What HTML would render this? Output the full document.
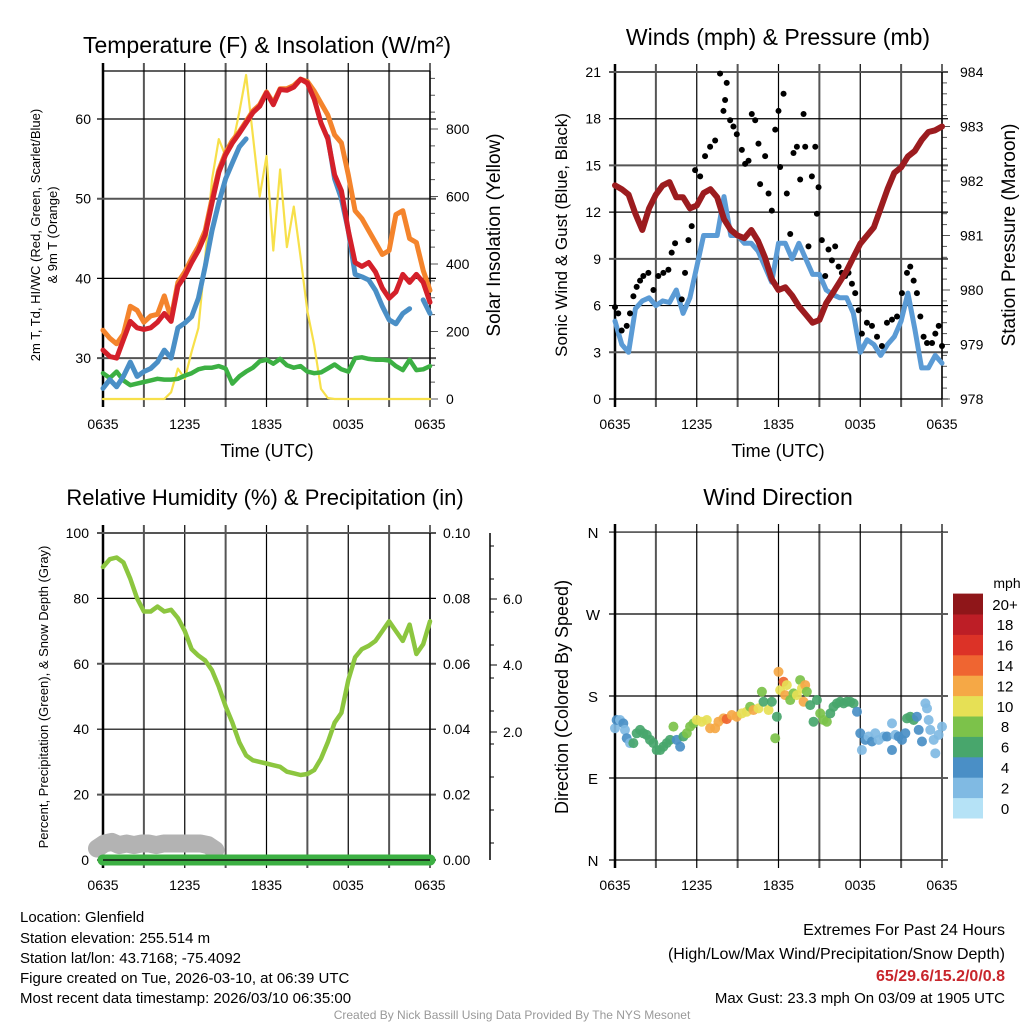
<!DOCTYPE html>
<html><head><meta charset="utf-8"><style>
body{margin:0;background:#fff;}
svg{display:block;font-family:"Liberation Sans",sans-serif;}
</style></head><body>
<svg id="c" width="1024" height="1024" viewBox="0 0 1024 1024">
<rect width="1024" height="1024" fill="#fff"/>
<g id="layer"></g>
<text x="20" y="922" font-size="15">Location: Glenfield</text>
<text x="20" y="943" font-size="15">Station elevation: 255.514 m</text>
<text x="20" y="963" font-size="15">Station lat/lon: 43.7168; -75.4092</text>
<text x="20" y="983" font-size="15">Figure created on Tue, 2026-03-10, at 06:39 UTC</text>
<text x="20" y="1003" font-size="15">Most recent data timestamp: 2026/03/10 06:35:00</text>
<text x="1005" y="935" font-size="16" text-anchor="end">Extremes For Past 24 Hours</text>
<text x="1005" y="959" font-size="16" text-anchor="end">(High/Low/Max Wind/Precipitation/Snow Depth)</text>
<text x="1005" y="981" font-size="16" font-weight="bold" fill="#c8262c" text-anchor="end">65/29.6/15.2/0/0.8</text>
<text x="1005" y="1003" font-size="15" text-anchor="end">Max Gust: 23.3 mph On 03/09 at 1905 UTC</text>
<text x="512" y="1019" font-size="12" fill="#999" text-anchor="middle">Created By Nick Bassill Using Data Provided By The NYS Mesonet</text>
</svg>
<script>
// ---- data (half-hourly from 0635 UTC, 49 points) ----
const xTickLabels = ["0635","1235","1835","0035","0635"];
const tempRed = [31.0,30.2,30.0,32.3,34.6,33.8,33.6,33.8,34.5,35.6,34.6,39.0,40.3,42.0,43.5,45.5,49.5,53.3,55.5,57.0,58.2,59.5,60.8,61.6,63.3,61.8,63.7,63.6,64.0,65.0,64.5,62.5,59.5,57.5,53.0,51.0,46.0,42.0,41.5,42.0,40.8,38.8,37.5,38.3,40.5,39.5,40.5,39.5,37.0];
const temp9mOrange = [33.5,32.5,31.8,33.0,36.5,36.0,34.5,35.3,35.5,37.8,35.0,39.5,40.8,42.5,44.0,46.0,50.0,53.6,55.8,57.3,58.4,59.7,61.0,61.8,63.4,62.0,63.8,63.8,64.2,65.0,64.7,63.5,62.0,60.5,58.0,57.0,53.0,48.5,47.5,46.0,44.5,43.0,43.5,48.0,48.5,45.0,44.5,41.0,38.5];
const windChillBlue = [26.2,27.3,26.4,27.7,29.5,27.7,28.3,28.7,29.5,31.0,30.0,33.8,34.4,35.2,37.5,41.5,46.0,49.5,52.5,54.5,56.5,57.5,null,null,null,null,null,null,null,null,null,null,null,57.8,52.5,50.0,46.0,40.5,40.2,39.8,38.5,36.5,34.8,34.3,35.6,36.2,null,37.3,35.6];
const dewGreen = [28.1,27.5,28.3,27.2,26.6,26.8,27.0,27.2,27.4,27.3,27.3,27.4,27.8,28.1,28.6,28.8,28.8,29.0,28.7,26.8,27.7,28.3,28.8,29.6,29.8,29.3,29.9,29.1,28.8,29.0,28.3,28.1,28.2,28.7,29.2,28.6,28.3,30.0,30.1,29.9,29.8,29.8,29.7,29.0,28.5,29.8,28.5,28.6,29.0];
const solarYellow = [0,0,0,0,0,0,0,0,0,0,20,90,60,140,210,420,650,770,720,750,850,960,780,600,720,440,680,450,570,420,260,160,30,3,0,0,0,0,0,0,0,0,0,0,0,0,0,0,0];
const pressureMb = [981.92,981.85,981.75,981.4,981.1,981.5,981.75,981.92,981.98,981.7,981.7,981.5,981.55,981.78,981.85,981.7,981.3,981.1,981.0,980.95,981.1,980.9,980.6,980.2,980.0,980.05,979.9,979.7,979.55,979.4,979.45,979.76,979.95,980.15,980.35,980.6,980.85,981.0,981.15,981.5,981.85,982.15,982.25,982.45,982.55,982.75,982.9,982.93,983.0];
const windMph = [5.0,3.5,3.0,5.8,6.3,6.5,6.0,6.3,6.2,7.0,5.5,6.5,8.5,10.5,10.5,10.5,13.0,10.5,10.5,10.0,10.0,9.5,8.5,7.5,10.0,10.0,9.0,10.0,9.0,8.0,8.0,7.0,6.7,6.5,6.5,5.5,3.0,3.8,3.5,2.8,3.5,4.0,5.0,6.8,4.5,2.0,2.0,2.8,2.3];
const gustHr = [0,.24,.49,.86,1.1,1.35,1.59,1.84,2.08,2.45,2.82,3.18,3.55,3.92,4.16,4.41,4.9,5.14,5.39,5.63,5.88,6.25,6.61,6.98,7.35,7.71,7.96,8.08,8.2,8.45,8.69,8.94,9.31,9.55,9.8,10.04,10.29,10.53,10.65,11.02,11.27,11.51,11.76,12.0,12.12,12.37,12.61,12.86,13.1,13.35,13.59,13.84,13.96,14.2,14.45,14.7,14.82,14.94,15.18,15.43,15.67,15.92,16.16,16.41,16.65,16.9,17.14,17.39,17.63,17.88,18.12,18.49,18.86,19.23,19.59,19.96,20.33,20.7,21.06,21.43,21.67,21.92,22.16,22.41,22.65,22.9,23.27,23.51,23.76,24];
const gustMph = [5.9,5.5,4.4,4.7,5.5,6.6,7.2,7.6,7.9,8.1,7.0,7.9,8.1,8.3,9.4,10.0,6.4,8.1,10.2,11.1,14.7,14.3,15.6,16.2,16.6,20.9,18.5,19.2,20.3,17.9,17.5,17.0,16.0,15.1,15.3,18.3,17.9,16.4,13.8,15.6,13.2,12.1,17.3,18.5,14.9,19.6,13.2,10.6,15.8,16.2,14.1,18.3,16.2,9.8,14.3,16.2,11.9,13.6,10.2,7.9,9.6,8.9,9.8,8.5,8.1,7.9,8.1,7.4,6.8,5.7,4.2,4.9,4.7,4.0,3.4,4.9,5.1,5.3,6.8,8.1,8.5,7.6,6.8,5.3,4.0,3.6,3.6,4.2,4.7,3.4];
const rhPct = [89.6,92,92.5,91,86,80,76,76,77.5,76,76.5,74,70,64.5,62.5,61,58,53,47,42,36,32,30.5,30,29.5,29,28.5,27,26.5,26,26.3,27.5,31,36,42,45,55,62,64.5,65.5,67,70,73,70,67,72,63,66,73];
const precipIn = [0,0,0,0,0,0,0,0,0,0,0,0,0,0,0,0,0,0,0,0,0,0,0,0,0,0,0,0,0,0,0,0,0,0,0,0,0,0,0,0,0,0,0,0,0,0,0,0,0];
const snowDepth = [0.35,0.5,0.55,0.45,0.5,0.45,0.5,0.5,0.45,0.5,0.5,0.5,0.5,0.5,0.5,0.45,0.3];
const dirHr = [0,.12,.37,.61,.73,.86,1.1,1.35,1.59,1.84,2.08,2.33,2.57,2.82,3.06,3.31,3.55,3.8,4.04,4.29,4.53,4.78,5.02,5.27,5.51,5.76,6.0,6.37,6.74,6.98,7.35,7.59,7.96,8.2,8.57,8.94,9.31,9.67,9.92,10.16,10.53,10.78,10.9,11.27,11.51,11.76,11.88,12.0,12.12,12.37,12.49,12.61,12.86,13.1,13.35,13.59,13.72,13.84,13.96,14.08,14.33,14.57,14.82,15.06,15.31,15.55,15.8,16.04,16.29,16.53,16.78,17.02,17.27,17.51,17.76,18.0,18.12,18.37,18.61,18.86,19.1,19.35,19.72,19.96,20.33,20.33,20.57,20.82,21.06,21.31,21.43,21.67,21.92,22.16,22.29,22.53,22.78,22.9,23.02,23.14,23.39,23.51,23.75,24.0];
const dirDeg = [144.6,153.7,153.7,150,142.8,133.7,128.3,128.3,139.1,142.8,139.1,137.3,131.9,128.3,120.7,120.7,124.4,128.3,131.9,146.4,131.9,124.4,135.5,139.1,146.4,150,153.7,151.8,153.7,144.6,144.6,151.8,155.4,154.7,159.1,157.3,160.9,162.8,168.2,164.6,166.4,184.7,173.7,164.6,173.7,133.7,157.3,206.6,186.5,195.7,181,192,175.6,182.9,181,197.5,188.4,173.7,192,184.7,170,151.8,175.6,160.9,153.7,151.8,160.9,168.2,171.9,173.7,171.9,173.7,173.7,171.9,162.8,139.1,120.7,131.9,135.5,130.1,139.1,131.9,135.5,135.5,150,120.7,137.3,135.5,131.9,139.1,155.4,157.3,153.7,157.3,142.8,130.1,171.9,166.4,153.7,142.8,131.9,117.1,137.3,146.4];
const dirSpd = [2,4,2,4,2,4,2,6,6,6,6,6,6,6,6,6,6,6,6,8,4,4,6,8,8,8,10,10,10,12,12,12,12,14,12,12,10,10,8,12,10,8,6,10,6,8,6,12,10,14,12,10,8,8,10,8,10,12,12,8,6,6,6,8,8,8,6,6,6,6,6,6,6,6,4,4,2,4,2,4,2,2,2,4,2,4,2,4,4,4,6,6,6,4,4,4,2,2,2,2,2,2,2,2];
const cbLabels = ["0","2","4","6","8","10","12","14","16","18","20+"];
const cbColors = ["#b5e2f6","#80bae3","#4a8fc6","#48a66c","#7cc24a","#e6e055","#f5a846","#ef6531","#dc3227","#bd1e26","#8f1619"];

const NS="http://www.w3.org/2000/svg";
const L=document.getElementById('layer');
function mk(tag,a,parent){const e=document.createElementNS(NS,tag);for(const k in a)e.setAttribute(k,a[k]);(parent||L).appendChild(e);return e;}
function txt(x,y,s,size,extra){const e=mk('text',Object.assign({x:x,y:y,'font-size':size},extra||{}));e.textContent=s;return e;}

function panel(px0,px1,py0,py1){
  // vertical grid every 3 hours
  for(let h=0;h<=24;h+=3){
    const x=px0+(px1-px0)*h/24;
    const dark=(h%6===0);
    const g=mk('line',{x1:x,x2:x,y1:py0-8,y2:py1+8,stroke:dark?'#000':'#555','stroke-width':dark?1.2:2});
    
    
  }
  for(let i=0;i<5;i++){
    const h=i*6,x=px0+(px1-px0)*h/24;
    const t=txt(x,py1+30,xTickLabels[i],14,{'text-anchor':'middle'});
    
    
  }
  const b=mk('line',{x1:px0,x2:px0,y1:py0-8,y2:py1+8,stroke:'#000','stroke-width':2.5});
  
  
}
function hline(px0,px1,y,dark){
  const g=mk('line',{x1:px0-6,x2:px1+6,y1:y,y2:y,stroke:dark?'#000':'#555','stroke-width':dark?1.2:2});
  
  
}
function series(arr,xf,yf,color,w,name){
  let d='',pen=false;
  arr.forEach((v,i)=>{ if(v===null){pen=false;return;} d+=(pen?'L':'M')+xf(i).toFixed(1)+' '+yf(v).toFixed(1)+' '; pen=true;});
  const p=mk('path',{d:d,fill:'none',stroke:color,'stroke-width':w,'stroke-linejoin':'round','stroke-linecap':'round'});
  
  
  return p;
}
function rtitle(x,y,s,size,name){
  const t=txt(0,0,s,size,{'text-anchor':'middle',transform:`translate(${x},${y}) rotate(-90)`});
  
  
  return t;
}
function title(x,y,s,size,name){const t=txt(x,y,s,size,{'text-anchor':'middle'});return t;}

// ===== Panel 1: Temperature =====
{
 const x0=103,x1=430,y0=71,y1=399;
 const xi=i=>x0+(x1-x0)*i/48;
 const yT=v=>119+(60-v)*7.97;
 const yS=v=>399-v*0.3375;
 panel(x0,x1,y0,y1);
 [30,40,50,60].forEach(v=>{hline(x0,x1,yT(v),v%20===0);const t=txt(x0-12,yT(v)+5,String(v),14,{'text-anchor':'end'});});
 [0,200,400,600,800].forEach(v=>{const t=txt(x1+16,yS(v)+5,String(v),14);});
 for(let v=0;v<=950;v+=50){const tk=mk('line',{x1:x1,x2:x1+(v%200===0?8:5),y1:yS(v),y2:yS(v),stroke:'#555','stroke-width':1});}
 mk('line',{x1:x0,x2:x1,y1:y0,y2:y0,stroke:'#000','stroke-width':1.2});
 mk('line',{x1:x0,x2:x1,y1:y1,y2:y1,stroke:'#000','stroke-width':1.2});
 mk('line',{x1:x1,x2:x1,y1:y0,y2:y1,stroke:'#000','stroke-width':1.5});
 series(solarYellow,xi,yS,'#f7e04a',2.2,'solar-insolation-line');
 series(dewGreen,xi,yT,'#3cb043',4.5,'dewpoint-line');
 series(windChillBlue,xi,yT,'#4a8fc6',5,'wind-chill-line');
 series(temp9mOrange,xi,yT,'#f4842c',5,'temp-9m-line');
 series(tempRed,xi,yT,'#d4202a',5,'temp-2m-line');
 title(267,53,'Temperature (F) & Insolation (W/m²)',23,'temperature-title');
 title(267,457,'Time (UTC)',18,'temp-x-axis-title');
 rtitle(40,235,'2m T, Td, HI/WC (Red, Green, Scarlet/Blue)',13,'temp-y-axis-title');
 rtitle(57,235,'& 9m T (Orange)',13,'temp-y-axis-title-2');
 rtitle(500,235,'Solar Insolation (Yellow)',19,'solar-axis-title');
}
// ===== Panel 2: Winds =====
{
 const x0=615,x1=942,y0=72,y1=399;
 const xi=i=>x0+(x1-x0)*i/48;
 const xh=h=>x0+(x1-x0)*h/24;
 const yW=v=>399-v*15.571;
 const yP=v=>399-(v-978)*54.5;
 panel(x0,x1,y0,y1);
 [0,3,6,9,12,15,18,21].forEach(v=>{hline(x0,x1,yW(v),v%6===0);const t=txt(x0-14,yW(v)+5,String(v),14,{'text-anchor':'end'});});
 for(let v=978;v<=984;v++){const t=txt(x1+18,yP(v)+5,String(v),14);}
 for(let v=978;v<=984;v+=0.2){const tk=mk('line',{x1:x1,x2:x1+(Math.abs(v-Math.round(v))<0.01?8:5),y1:yP(v),y2:yP(v),stroke:'#555','stroke-width':1});}
 mk('line',{x1:x1,x2:x1,y1:y0,y2:y1,stroke:'#000','stroke-width':1.5});
 mk('line',{x1:x0,x2:x1,y1:y1,y2:y1,stroke:'#000','stroke-width':1.2});
 series(windMph,xi,yW,'#5b9bd5',5,'sonic-wind-line');
 gustHr.forEach((h,i)=>{const c=mk('circle',{cx:xh(h),cy:yW(gustMph[i]),r:3,fill:'#000'});});
 series(pressureMb,xi,yP,'#9c1c1f',6,'pressure-line');
 title(778,45,'Winds (mph) & Pressure (mb)',23,'winds-title');
 title(778,457,'Time (UTC)',18,'wind-x-axis-title');
 rtitle(567,235,'Sonic Wind & Gust (Blue, Black)',17,'wind-y-axis-title');
 rtitle(1015,235,'Station Pressure (Maroon)',19,'pressure-axis-title');
}
// ===== Panel 3: RH & Precip =====
{
 const x0=103,x1=430,y0=533,y1=860;
 const xi=i=>x0+(x1-x0)*i/48;
 const yR=v=>860-v*3.27;
 const yPr=v=>860-v*3270;
 const ySn=v=>860-v*33;
 panel(x0,x1,y0,y1);
 [0,20,40,60,80,100].forEach(v=>{hline(x0,x1,yR(v),v%40===0);const t=txt(x0-14,yR(v)+5,String(v),14,{'text-anchor':'end'});});
 [0,0.02,0.04,0.06,0.08,0.10].forEach(v=>{const t=txt(x1+13,yPr(v)+5,v.toFixed(2),14);});
 const sa=mk('line',{x1:490,x2:490,y1:533,y2:860,stroke:'#000','stroke-width':1.5});
 [["6.0",599],["4.0",665],["2.0",732]].forEach(a=>{const t=txt(503,a[1]+5,a[0],14);mk('line',{x1:490,x2:497,y1:a[1],y2:a[1],stroke:'#000'});});
 for(let y=546;y<860;y+=33){mk('line',{x1:490,x2:494,y1:y,y2:y,stroke:'#000'});}
 mk('line',{x1:x1,x2:x1,y1:y0,y2:y1,stroke:'#000','stroke-width':1.5});
 series(snowDepth,i=>97+i*7.4,ySn,'#b3b3b3',18,'snow-depth-area');
 series(precipIn,xi,yPr,'#3cb043',11,'precipitation-line');
 mk('line',{x1:x0,x2:x1,y1:y1,y2:y1,stroke:'#111','stroke-width':1.5});
 series(rhPct,xi,yR,'#8cc63f',4.5,'relative-humidity-line');
 title(265,505,'Relative Humidity (%) & Precipitation (in)',22,'humidity-title');
 rtitle(48,697,'Percent, Precipitation (Green), & Snow Depth (Gray)',13,'rh-y-axis-title');
}
// ===== Panel 4: Wind Direction =====
{
 const x0=615,x1=942,y0=532,y1=860;
 const xh=h=>x0+(x1-x0)*h/24;
 const yD=v=>860-v*0.911;
 panel(x0,x1,y0,y1);
 const dl=["N","E","S","W","N"];
 [0,90,180,270,360].forEach((v,i)=>{hline(x0,x1,yD(v),true);const t=txt(x0-22,yD(v)+6,dl[i],15,{'text-anchor':'middle'});});
 mk('line',{x1:x1,x2:x1,y1:y0,y2:y1,stroke:'#555','stroke-width':2});
 dirHr.forEach((h,i)=>{const k=Math.min(10,Math.floor(dirSpd[i]/2));const c=mk('circle',{cx:xh(h),cy:yD(dirDeg[i]),r:5,fill:cbColors[k],'fill-opacity':0.92});});
 const bh=20.4;
 cbColors.forEach((col,i)=>{const y=818-(i+1)*bh;const r=mk('rect',{x:953,y:y,width:30,height:bh+0.5,fill:col});
   const t=txt(1005,y+bh/2+6,cbLabels[i],15,{'text-anchor':'middle'});});
 const u=txt(1007,588,'mph',14,{'text-anchor':'middle'});
 title(778,505,'Wind Direction',23,'wind-direction-title');
 rtitle(568,697,'Direction (Colored By Speed)',18,'direction-y-axis-title');
}
</script>
</body></html>
